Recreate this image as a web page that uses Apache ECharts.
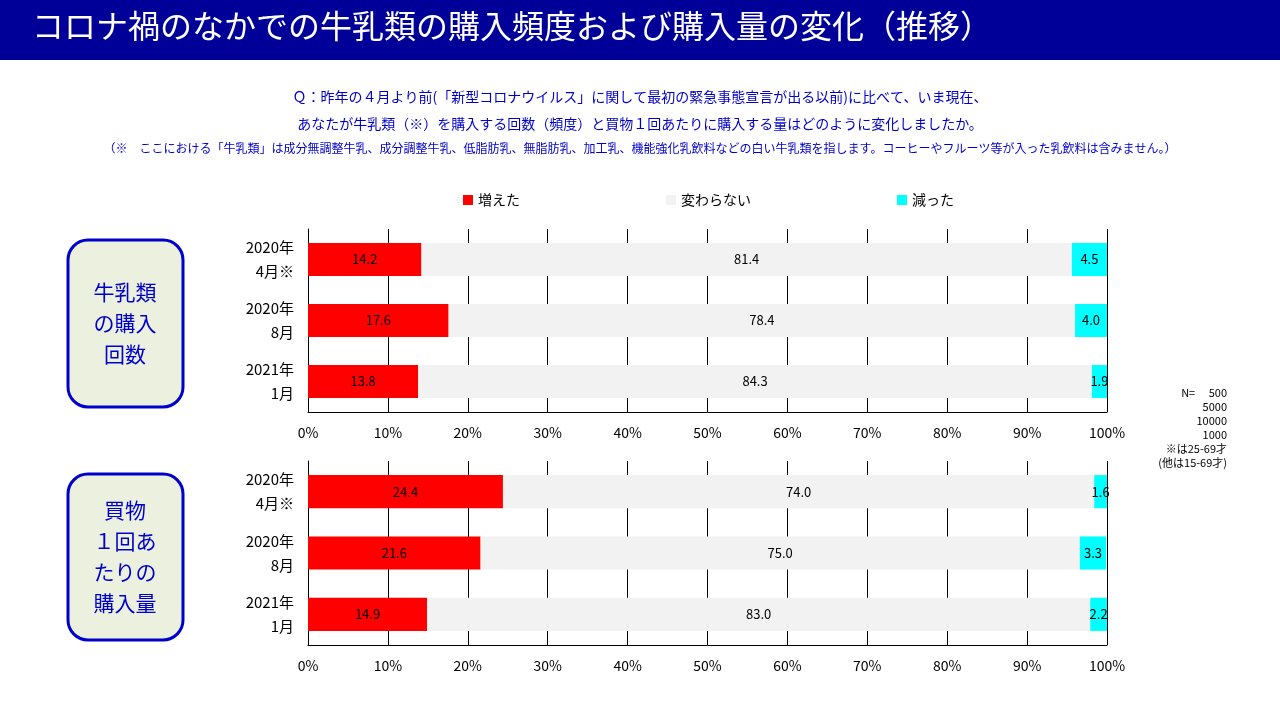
<!DOCTYPE html>
<html>
<head>
<meta charset="utf-8">
<script src="https://cdn.jsdelivr.net/npm/echarts@6/dist/echarts.min.js"></script>
<style>html,body{margin:0;padding:0;background:#fff}#main{width:1280px;height:720px}</style>
</head>
<body>
<div id="main"></div>
<script>
// 期間（カテゴリ）
const periods = ['2020年\n4月※', '2020年\n8月', '2021年\n1月'];
// 牛乳類の購入回数
const freqUp = [14.2, 17.6, 13.8];
const freqSame = [81.4, 78.4, 84.3];
const freqDown = [4.5, 4.0, 1.9];
// 買物１回あたりの購入量
const qtyUp = [24.4, 21.6, 14.9];
const qtySame = [74.0, 75.0, 83.0];
const qtyDown = [1.6, 3.3, 2.2];

const FONT = '"Noto Sans CJK JP", sans-serif';
const names = ['増えた', '変わらない', '減った'];
const colors = ['#ff0000', '#f2f2f2', '#00ffff'];

let myChart = echarts.init(document.getElementById('main'));

function mkSeries(arrs, idx) {
	return arrs.map((d, i) => ({
		name: names[i],
		type: 'bar',
		stack: 's' + idx,
		xAxisIndex: idx,
		yAxisIndex: idx,
		barWidth: '54%',
		itemStyle: { color: colors[i] },
		label: {
			show: true,
			position: 'inside',
			color: '#000',
			fontSize: 13,
			fontFamily: FONT,
			formatter: p => p.value.toFixed(1)
		},
		data: d
	}));
}

function xAx(idx) {
	return {
		gridIndex: idx, type: 'value', min: 0, max: 100, interval: 10,
		axisLabel: { formatter: '{value}%', color: '#000', fontSize: 14, fontFamily: FONT, margin: 14 },
		splitLine: { lineStyle: { color: '#000', width: 1 } },
		axisLine: { show: true, lineStyle: { color: '#000' } },
		axisTick: { show: false }
	};
}
function yAx(idx) {
	return {
		gridIndex: idx, type: 'category', inverse: true, data: periods,
		axisLabel: { color: '#000', fontSize: 15, fontFamily: FONT, lineHeight: 24, margin: 14 },
		axisLine: { lineStyle: { color: '#000' } },
		axisTick: { inside: true, length: 6, lineStyle: { color: '#000' } }
	};
}

let option = {
	animation: false,
	textStyle: { fontFamily: FONT },
	legend: {
		top: 188, left: 458, itemWidth: 10, itemHeight: 10, itemGap: 146,
		icon: 'rect',
		textStyle: { fontSize: 14, color: '#000', fontFamily: FONT },
		data: names
	},
	grid: [
		{ left: 308, right: 173, top: 229, height: 183 },
		{ left: 308, right: 173, top: 461, height: 184 }
	],
	xAxis: [xAx(0), xAx(1)],
	yAxis: [yAx(0), yAx(1)],
	series: mkSeries([freqUp, freqSame, freqDown], 0).concat(mkSeries([qtyUp, qtySame, qtyDown], 1)),
	graphic: [
		{ type: 'rect', shape: { x: 0, y: 0, width: 1280, height: 60 }, style: { fill: '#000099' } },
		{ type: 'text', left: 32, top: 10, style: { text: 'コロナ禍のなかでの牛乳類の購入頻度および購入量の変化（推移）', fill: '#fff', font: '32px ' + FONT } },
		{ type: 'text', left: 'center', top: 90, style: { text: 'Ｑ：昨年の４月より前(「新型コロナウイルス」に関して最初の緊急事態宣言が出る以前)に比べて、いま現在、', fill: '#0000cc', font: '14px ' + FONT } },
		{ type: 'text', left: 'center', top: 117, style: { text: 'あなたが牛乳類（※）を購入する回数（頻度）と買物１回あたりに購入する量はどのように変化しましたか。', fill: '#0000cc', font: '14px ' + FONT } },
		{ type: 'text', left: 'center', top: 142, style: { text: '（※　ここにおける「牛乳類」は成分無調整牛乳、成分調整牛乳、低脂肪乳、無脂肪乳、加工乳、機能強化乳飲料などの白い牛乳類を指します。コーヒーやフルーツ等が入った乳飲料は含みません。）', fill: '#0000cc', font: '12px ' + FONT } },
		{ type: 'rect', shape: { x: 68, y: 240, width: 115, height: 167, r: 20 }, style: { fill: '#ebf1de', stroke: '#0000cc', lineWidth: 3 } },
		{ type: 'text', x: 125, y: 323, style: { text: '牛乳類\nの購入\n回数', fill: '#0000cc', font: '21px ' + FONT, align: 'center', verticalAlign: 'middle', lineHeight: 31 } },
		{ type: 'rect', shape: { x: 68, y: 474, width: 115, height: 166, r: 20 }, style: { fill: '#ebf1de', stroke: '#0000cc', lineWidth: 3 } },
		{ type: 'text', x: 125, y: 557, style: { text: '買物\n１回あ\nたりの\n購入量', fill: '#0000cc', font: '21px ' + FONT, align: 'center', verticalAlign: 'middle', lineHeight: 31 } },
		{ type: 'text', x: 1227, y: 386, style: { text: 'N=　 500\n5000\n10000\n1000\n※は25-69才\n(他は15-69才)', fill: '#000', font: '11px ' + FONT, align: 'right', lineHeight: 14 } }
	]
};

myChart.setOption(option);
</script>
</body>
</html>
